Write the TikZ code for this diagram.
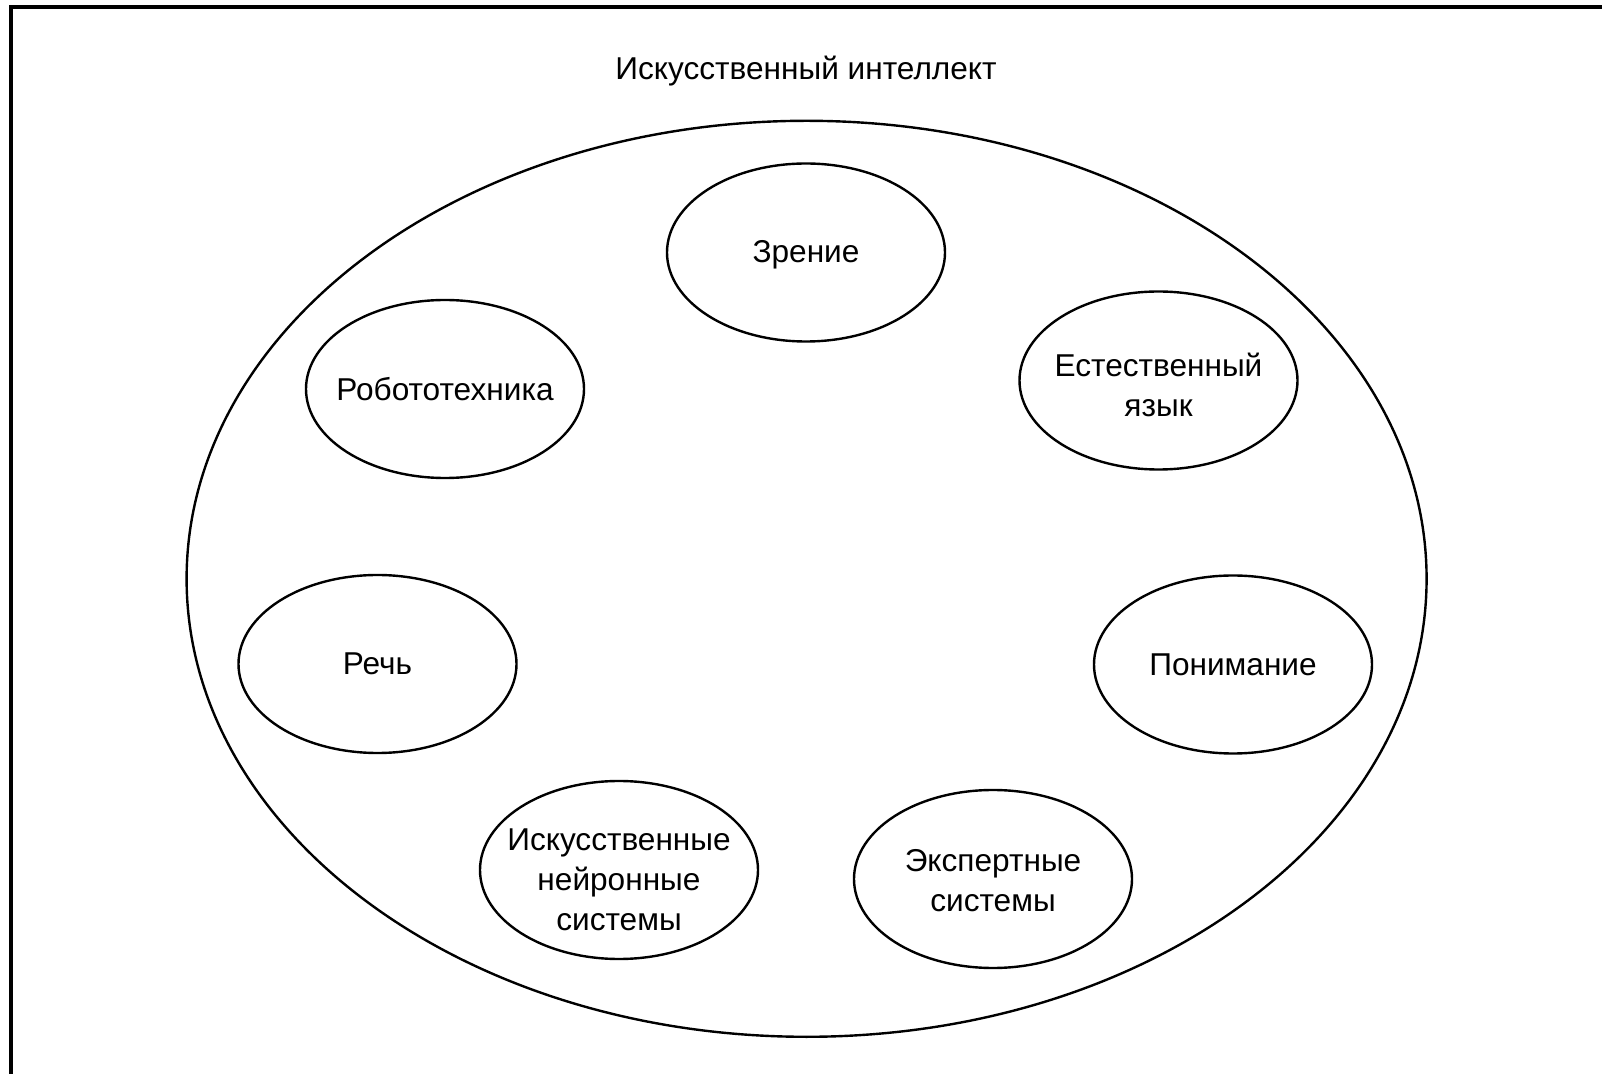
\documentclass[tikz,border=0pt]{standalone}
\usepackage{fontspec}
\setmainfont{Liberation Sans}
\usepackage{tikz}
\usetikzlibrary{shapes.geometric}
% shift a label down without changing its box
\newcommand{\dropby}[2]{\raisebox{-#1}[\height][\depth]{#2}}

\begin{document}
\begin{tikzpicture}[x=0.5pt, y=-0.5pt, font=\fontsize{15.8}{20}\selectfont,
  topic/.style={draw, ellipse, line width=1.2pt, minimum width=139pt, minimum height=89pt, inner xsep=-14pt, inner ysep=0pt, align=center}]
\useasboundingbox (0,0) rectangle (1602,1074);
% frame (top and left only)
\draw[line width=1.8pt] (11,1074)--(11,7)--(1602,7);
\node (title) at (806,71) {Искусственный интеллект};
% outer field
\node[draw, ellipse, line width=1.2pt, minimum width=620pt, minimum height=458pt] (field) at (806.6,578.8) {};
% topics
\node[topic] (zrenie) at (806,252.5) {\dropby{1pt}{Зрение}};
\node[topic] (robot)  at (445,389)   {Робототехника};
\node[topic] (yazyk)  at (1158.5,380.5) {\dropby{3.8pt}{\begin{tabular}{@{}c@{}}Естественный\\язык\end{tabular}}};
\node[topic] (rech)   at (377.5,664)   {Речь};
\node[topic] (ponim)  at (1233,664.5)  {Понимание};
\node[topic] (neuro)  at (619,870)     {\dropby{6.2pt}{\begin{tabular}{@{}c@{}}Искусственные\\нейронные\\системы\end{tabular}}};
\node[topic] (expert) at (993,879)     {\dropby{2.3pt}{\begin{tabular}{@{}c@{}}Экспертные\\системы\end{tabular}}};
\end{tikzpicture}
\end{document}
